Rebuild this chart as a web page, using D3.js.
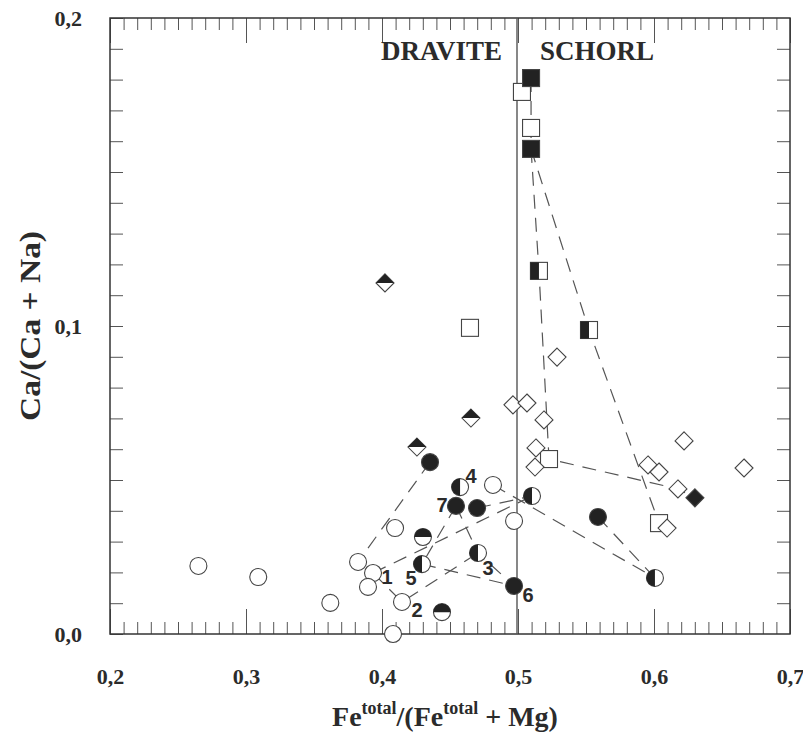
<!DOCTYPE html>
<html>
<head>
<meta charset="utf-8">
<script src="https://cdn.jsdelivr.net/npm/d3@7"></script>
<style>
  body { margin: 0; background: #fff; }
  svg text { font-family: "Liberation Serif", "Times New Roman", serif; font-weight: bold; fill: #2b2b2b; }
  .tick line { stroke: #555; }
</style>
</head>
<body>
<svg id="chart"></svg>
<script>
// tick values
var xMajor = [0.2, 0.3, 0.4, 0.5, 0.6, 0.7];
var yMajor = [0.0, 0.1, 0.2];

// markers, [Fe/(Fe+Mg), Ca/(Ca+Na)]
var openCircles = [[0.265, 0.0221], [0.309, 0.0185], [0.362, 0.0101], [0.3824, 0.0234], [0.3934, 0.0198],
  [0.3897, 0.0153], [0.4096, 0.0344], [0.4147, 0.0104], [0.4081, 0.0], [0.4816, 0.0484], [0.4971, 0.0367]];
var filledCircles = [[0.4353, 0.0558], [0.4544, 0.0416], [0.4699, 0.0409], [0.4971, 0.0156], [0.5588, 0.038]];
var halfCirclesLeft = [[0.4574, 0.0477], [0.4706, 0.0263], [0.4294, 0.0227], [0.5103, 0.0448], [0.6007, 0.0182]];
var halfCirclesTop = [[0.4301, 0.0315], [0.4441, 0.0071]];
var openSquares = [[0.5029, 0.176], [0.5096, 0.1643], [0.4647, 0.0994], [0.5228, 0.0568], [0.6037, 0.036]];
var filledSquares = [[0.5096, 0.1805], [0.5096, 0.1575]];
var halfSquares = [[0.5154, 0.1179], [0.5522, 0.0987]];
var openDiamonds = [[0.5287, 0.0899], [0.4963, 0.0744], [0.5066, 0.075], [0.5191, 0.0695], [0.5132, 0.0604],
  [0.5125, 0.0542], [0.6221, 0.0627], [0.5956, 0.0549], [0.6037, 0.0526], [0.6176, 0.0471], [0.6662, 0.0539], [0.6096, 0.0344]];
var filledDiamonds = [[0.6301, 0.0442]];
var halfDiamonds = [[0.4022, 0.114], [0.4257, 0.0607], [0.4654, 0.0701]];

// zoning trends (dashed)
var trends = [
  [[0.5096, 0.1805], [0.5096, 0.1643], [0.5096, 0.1575]],
  [[0.5096, 0.1575], [0.5154, 0.1179], [0.5228, 0.0568], [0.6176, 0.0471], [0.6301, 0.0442]],
  [[0.5096, 0.1575], [0.5522, 0.0987], [0.6037, 0.036]],
  [[0.4353, 0.0558], [0.3824, 0.0234]],
  [[0.3934, 0.0198], [0.5103, 0.0448]],
  [[0.3934, 0.0198], [0.4147, 0.0104], [0.4706, 0.0263]],
  [[0.4294, 0.0227], [0.4971, 0.0156]],
  [[0.4544, 0.0416], [0.4294, 0.0227]],
  [[0.4544, 0.0416], [0.4706, 0.0263], [0.4971, 0.0156]],
  [[0.4699, 0.0409], [0.5103, 0.0448]],
  [[0.4816, 0.0484], [0.6007, 0.0182]],
  [[0.5588, 0.038], [0.6007, 0.0182]]
];

// grain numbers
var grainLabels = [
  {t: "1", x: 0.4037, y: 0.0185}, {t: "2", x: 0.4257, y: 0.0078}, {t: "3", x: 0.4779, y: 0.0214},
  {t: "4", x: 0.4654, y: 0.0513}, {t: "5", x: 0.4213, y: 0.0182}, {t: "6", x: 0.5074, y: 0.0127},
  {t: "7", x: 0.4441, y: 0.0419}
];

var margin = {top: 18, right: 13, bottom: 99, left: 110},
    width = 803 - margin.left - margin.right,
    height = 733 - margin.top - margin.bottom;

var x = d3.scaleLinear().domain([0.2, 0.7]).range([0, width]);
var y = d3.scaleLinear().domain([0, 0.2]).range([height, 0]);

var svg = d3.select("#chart")
    .attr("width", 803)
    .attr("height", 733)
  .append("g")
    .attr("transform", "translate(" + margin.left + "," + margin.top + ")");

var fmt = function(d) { return d3.format(".1f")(d).replace(".", ","); };
var minorX = d3.range(21, 70).map(function(i) { return i / 100; });
var minorY = d3.range(1, 20).map(function(i) { return i / 100; });

// minor ticks, all four sides, inward
svg.append("g").attr("transform", "translate(0," + height + ")")
    .call(d3.axisBottom(x).tickValues(minorX).tickSize(-12).tickFormat(""));
svg.append("g")
    .call(d3.axisTop(x).tickValues(minorX).tickSize(-12).tickFormat(""));
svg.append("g")
    .call(d3.axisLeft(y).tickValues(minorY).tickSize(-13).tickFormat(""));
svg.append("g").attr("transform", "translate(" + width + ",0)")
    .call(d3.axisRight(y).tickValues(minorY).tickSize(-13).tickFormat(""));

// major ticks with labels
svg.append("g").attr("class", "lab").attr("transform", "translate(0," + height + ")")
    .call(d3.axisBottom(x).tickValues(xMajor).tickSize(-25).tickPadding(34).tickFormat(fmt));
svg.append("g")
    .call(d3.axisTop(x).tickValues(xMajor).tickSize(-25).tickFormat(""));
svg.append("g").attr("class", "lab")
    .call(d3.axisLeft(y).tickValues(yMajor).tickSize(-13).tickPadding(28).tickFormat(fmt));
svg.selectAll(".domain").remove();
svg.selectAll(".lab").attr("font-size", null).attr("font-family", null);
svg.selectAll(".lab text").attr("font-size", 22).attr("fill", "#2b2b2b");

// frame
svg.append("rect")
    .attr("width", width).attr("height", height)
    .attr("fill", "none").attr("stroke", "#333").attr("stroke-width", 1.5);

// dravite / schorl boundary
svg.append("line")
    .attr("x1", x(0.5) - 1).attr("x2", x(0.5) - 1)
    .attr("y1", 0).attr("y2", height)
    .attr("stroke", "#555").attr("stroke-width", 1.4);

svg.append("text").attr("x", x(0.5) - 16).attr("y", 42)
    .attr("text-anchor", "end").attr("font-size", 27).text("DRAVITE");
svg.append("text").attr("x", x(0.5) + 22).attr("y", 42)
    .attr("font-size", 27).text("SCHORL");

// trend lines
var line = d3.line()
    .x(function(d) { return x(d[0]); })
    .y(function(d) { return y(d[1]); });

svg.selectAll(".trend")
    .data(trends)
  .enter().append("path")
    .attr("class", "trend")
    .attr("d", line)
    .attr("fill", "none")
    .attr("stroke", "#555")
    .attr("stroke-width", 1.2)
    .attr("stroke-dasharray", "14,9");

// markers
var r = 8.5, s = 17, dd = 9;
var ink = "#222", edge = "#444";

function place(sel) {
  return sel.attr("transform", function(d) { return "translate(" + x(d[0]) + "," + y(d[1]) + ")"; });
}

function circles(data, fill) {
  var g = place(svg.append("g").selectAll("g").data(data).enter().append("g"));
  g.append("circle").attr("r", r).attr("fill", fill).attr("stroke", edge).attr("stroke-width", 1.1);
  return g;
}
function squares(data, fill) {
  var g = place(svg.append("g").selectAll("g").data(data).enter().append("g"));
  g.append("rect").attr("x", -s / 2).attr("y", -s / 2).attr("width", s).attr("height", s)
      .attr("fill", fill).attr("stroke", edge).attr("stroke-width", 1.1);
  return g;
}
function diamonds(data, fill) {
  var g = place(svg.append("g").selectAll("g").data(data).enter().append("g"));
  g.append("path").attr("d", "M0," + (-dd) + "L" + dd + ",0L0," + dd + "L" + (-dd) + ",0Z")
      .attr("fill", fill).attr("stroke", edge).attr("stroke-width", 1.1);
  return g;
}

circles(openCircles, "#fff");
circles(filledCircles, ink);
circles(halfCirclesLeft, "#fff").append("path")
    .attr("d", "M0," + (-r) + "A" + r + "," + r + " 0 0 0 0," + r + "Z").attr("fill", ink);
circles(halfCirclesTop, "#fff").append("path")
    .attr("d", "M" + (-r) + ",0A" + r + "," + r + " 0 0 1 " + r + ",0Z").attr("fill", ink);

squares(openSquares, "#fff");
squares(filledSquares, ink);
squares(halfSquares, "#fff").append("rect")
    .attr("x", -s / 2).attr("y", -s / 2).attr("width", s / 2).attr("height", s).attr("fill", ink);

diamonds(openDiamonds, "#fff");
diamonds(filledDiamonds, ink);
diamonds(halfDiamonds, "#fff").append("path")
    .attr("d", "M" + (-dd) + ",0L0," + (-dd) + "L" + dd + ",0Z").attr("fill", ink);

// grain numbers
svg.selectAll(".num")
    .data(grainLabels)
  .enter().append("text")
    .attr("x", function(d) { return x(d.x); })
    .attr("y", function(d) { return y(d.y); })
    .attr("text-anchor", "middle")
    .attr("dominant-baseline", "central")
    .style("font-family", "'Liberation Sans', Arial, sans-serif")
    .attr("font-size", 20)
    .attr("fill", "#333")
    .text(function(d) { return d.t; });

// axis titles
var xt = svg.append("text")
    .attr("x", 445 - margin.left)
    .attr("y", height + 92)
    .attr("text-anchor", "middle")
    .attr("font-size", 28);
xt.append("tspan").text("Fe");
xt.append("tspan").attr("font-size", 18).attr("dy", -12).text("total");
xt.append("tspan").attr("dy", 12).text("/(Fe");
xt.append("tspan").attr("font-size", 18).attr("dy", -12).text("total");
xt.append("tspan").attr("dy", 12).text(" + Mg)");

svg.append("text")
    .attr("transform", "translate(" + (-70) + "," + (height / 2) + ") rotate(-90)")
    .attr("text-anchor", "middle")
    .attr("font-size", 30)
    .attr("textLength", 190)
    .attr("lengthAdjust", "spacingAndGlyphs")
    .text("Ca/(Ca + Na)");
</script>
</body>
</html>
